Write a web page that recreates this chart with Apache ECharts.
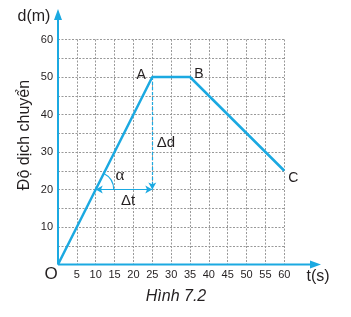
<!DOCTYPE html>
<html><head><meta charset="utf-8">
<script src="https://cdn.jsdelivr.net/npm/echarts@6/dist/echarts.min.js"></script>
<style>html,body{margin:0;padding:0;background:#fff}#c{width:351px;height:317px}</style>
</head><body><div id="c"></div>
<script>
var tValues = [0, 25, 35, 60];
var dValues = [0, 50, 50, 25];
var pointNames = ['', 'A', 'B', 'C'];
var xTicks = [5, 10, 15, 20, 25, 30, 35, 40, 45, 50, 55, 60];
var yTicks = [10, 20, 30, 40, 50, 60];
var deltaStart = [10, 20];   // start of Δt
var deltaEnd = [25, 20];     // end of Δt / bottom of Δd
var deltaTop = [25, 50];     // point A

var BLUE = '#1ba9e1';
var INK = '#231f20';
var FONT = '"Liberation Sans", Arial, sans-serif';
var chart = echarts.init(document.getElementById('c'), null, {renderer: 'canvas'});
var data = tValues.map(function (t, i) { return [t, dValues[i]]; });

chart.setOption({
  animation: false,
  grid: {left: 58, top: 39.5, right: 66.7, bottom: 52.5},
  xAxis: {
    type: 'value', min: 0, max: 60, interval: 5,
    axisLine: {show: false}, axisTick: {show: false},
    axisLabel: {margin: 5, color: INK, fontFamily: FONT, fontSize: 11,
      formatter: function (v) { return xTicks.indexOf(v) >= 0 ? String(v) : ''; }},
    splitLine: {show: true, lineStyle: {color: '#999', type: [2, 1.5], width: 1}}
  },
  yAxis: {
    type: 'value', min: 0, max: 60, interval: 5,
    axisLine: {show: false}, axisTick: {show: false},
    axisLabel: {margin: 5, color: INK, fontFamily: FONT, fontSize: 11,
      formatter: function (v) { return yTicks.indexOf(v) >= 0 ? String(v) : ''; }},
    splitLine: {show: true, lineStyle: {color: '#999', type: [2, 1.5], width: 1}}
  },
  series: [{
    type: 'line', data: data, showSymbol: false, symbol: 'none',
    lineStyle: {color: BLUE, width: 2.5}, z: 5,
    markLine: {
      silent: true, animation: false, label: {show: false},
      data: [
        [{coord: deltaTop, symbol: 'none', lineStyle: {type: [3, 2], width: 1.2, color: BLUE}},
         {coord: deltaEnd, symbol: 'arrow', symbolSize: [6, 7]}],
        [{coord: deltaStart, symbol: 'arrow', symbolSize: [6, 7], lineStyle: {type: 'solid', width: 1.2, color: BLUE}},
         {coord: deltaEnd, symbol: 'arrow', symbolSize: [6, 7]}]
      ]
    }
  }]
});

function px(p) { return chart.convertToPixel({gridIndex: 0}, p); }
var o = px([0, 0]);
var pA = px([25, 50]), pB = px([35, 50]), pC = px([60, 25]);
var pS = px(deltaStart);
var p1 = px([1, 2]);
var ang = Math.atan2(p1[1] - o[1], p1[0] - o[0]);

function txt(x, y, s, size, extra, fam) {
  var st = {text: s, x: x, y: y, fill: INK, font: (extra || '') + ' ' + size + 'px ' + (fam || FONT), align: 'center', verticalAlign: 'middle'};
  return {type: 'text', style: st, z: 20};
}

chart.setOption({
  graphic: [
    {type: 'line', shape: {x1: o[0], y1: o[1], x2: 312, y2: o[1]}, style: {stroke: BLUE, lineWidth: 2}, z: 10},
    {type: 'polygon', shape: {points: [[321, o[1]], [310, o[1] - 4], [310, o[1] + 4]]}, style: {fill: BLUE}, z: 10},
    {type: 'line', shape: {x1: o[0], y1: o[1], x2: o[0], y2: 18}, style: {stroke: BLUE, lineWidth: 2}, z: 10},
    {type: 'polygon', shape: {points: [[o[0], 9], [o[0] - 4, 20], [o[0] + 4, 20]]}, style: {fill: BLUE}, z: 10},
    {type: 'arc', shape: {cx: pS[0], cy: pS[1], r: 18, startAngle: ang, endAngle: 0}, style: {stroke: BLUE, lineWidth: 1.2, fill: null}, z: 10},
    txt(34, 17, 'd(m)', 16),
    {type: 'text', x: 25, y: 135, rotation: Math.PI / 2, style: {text: 'Độ dịch chuyển', x: 0, y: 0, fill: INK, font: '16px ' + FONT, align: 'center', verticalAlign: 'middle'}, z: 20},
    txt(51, 274, 'O', 17),
    txt(318, 277, 't(s)', 16),
    txt(pA[0] - 11, pA[1] - 2, pointNames[1], 14),
    txt(pB[0] + 9, pB[1] - 3, pointNames[2], 14),
    txt(pC[0] + 9, pC[1] + 7, pointNames[3], 14),
    txt(166, 143, 'Δd', 15),
    txt(120, 176, 'α', 17, '', '"Liberation Serif", serif'),
    txt(128, 201, 'Δt', 15),
    txt(176, 297, 'Hình 7.2', 16, 'italic')
  ]
});
</script></body></html>
